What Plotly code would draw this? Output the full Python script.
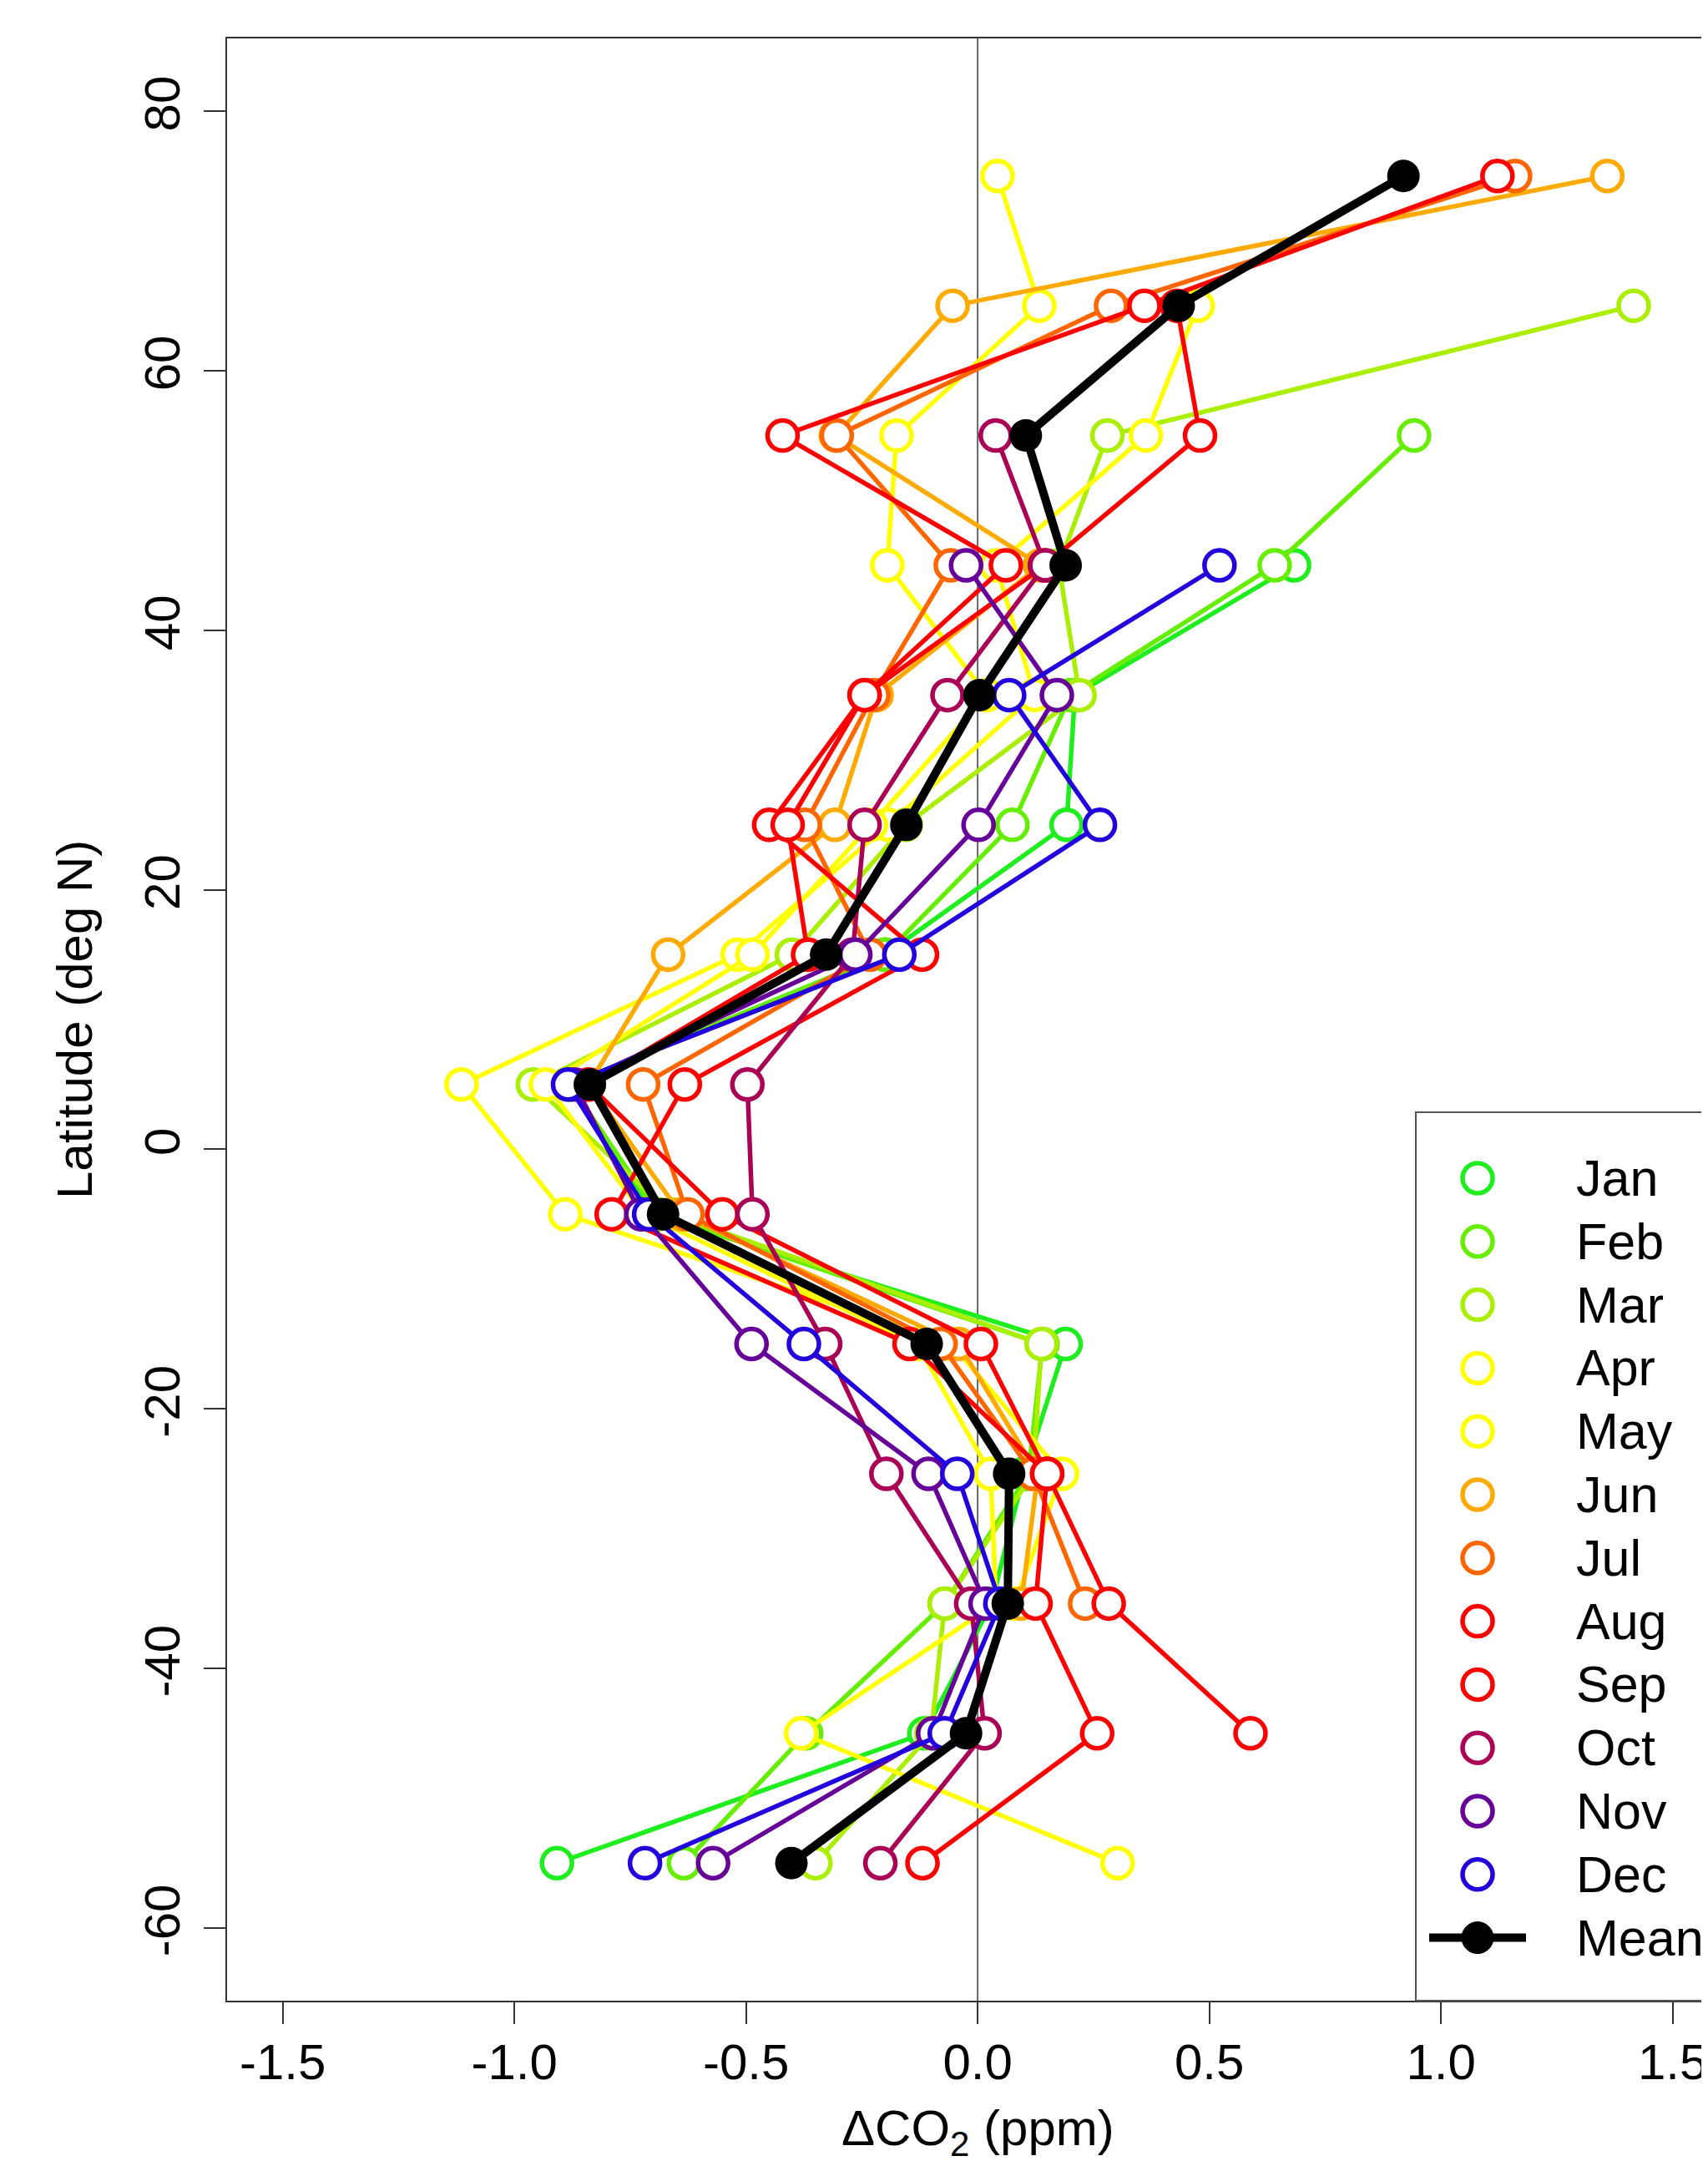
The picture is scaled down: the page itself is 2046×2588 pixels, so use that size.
import plotly.graph_objects as go

# ---------------- data ----------------
lats = [75, 65, 55, 45, 35, 25, 15, 5, -5, -15, -25, -35, -45, -55]
months = ["Jan", "Feb", "Mar", "Apr", "May", "Jun", "Jul", "Aug", "Sep", "Oct", "Nov", "Dec"]

jan = [None, None, None, 0.683, 0.21, 0.192, -0.20, -0.88, -0.70, 0.19, 0.10, 0.03, -0.115, -0.908]
feb = [None, None, 0.942, 0.641, 0.20, 0.075, -0.20, -0.88, -0.69, 0.14, 0.11, -0.071, -0.37, -0.634]
mar = [None, 1.416, 0.28, 0.175, 0.22, -0.155, -0.401, -0.96, -0.66, 0.138, 0.12, -0.071, -0.10, -0.35]
apr = [None, 0.475, 0.363, 0.04, 0.123, -0.193, -0.518, -1.114, -0.89, -0.056, 0.182, 0.08, None, None]
may = [0.043, 0.133, -0.175, -0.195, 0.02, -0.23, -0.486, -0.932, -0.72, -0.13, 0.028, 0.04, -0.381, 0.302]
jun = [1.359, -0.054, -0.306, 0.135, -0.218, -0.308, -0.668, -0.84, -0.64, -0.041, 0.13, 0.094, None, None]
jul = [1.16, 0.288, -0.304, -0.058, -0.225, -0.373, -0.232, -0.722, -0.626, -0.08, 0.12, 0.232, None, None]
aug = [1.122, 0.36, -0.421, 0.061, -0.244, -0.45, -0.12, -0.632, -0.79, -0.147, 0.15, 0.283, 0.589, None]
sep = [None, 0.43, 0.48, 0.145, -0.244, -0.41, -0.366, -0.84, -0.551, 0.007, 0.15, 0.125, 0.258, -0.119]
octo = [None, None, 0.039, 0.146, -0.065, -0.244, -0.27, -0.497, -0.486, -0.329, -0.197, -0.014, 0.015, -0.21]
nov = [None, None, None, -0.025, 0.171, 0.002, -0.264, -0.87, -0.726, -0.488, -0.106, 0.017, -0.096, -0.571]
dec = [None, None, None, 0.522, 0.068, 0.264, -0.169, -0.884, -0.709, -0.375, -0.044, 0.049, -0.071, -0.718]
mean_vals = [0.919, 0.434, 0.104, 0.19, 0.004, -0.154, -0.327, -0.837, -0.679, -0.11, 0.068, 0.065, -0.025, -0.402]

x_ticks = [-1.5, -1.0, -0.5, 0.0, 0.5, 1.0, 1.5]
x_ticklabels = ["-1.5", "-1.0", "-0.5", "0.0", "0.5", "1.0", "1.5"]
y_ticks = [-60, -40, -20, 0, 20, 40, 60, 80]
y_ticklabels = ["-60", "-40", "-20", "0", "20", "40", "60", "80"]

month_series = [jan, feb, mar, apr, may, jun, jul, aug, sep, octo, nov, dec]
month_colors = ["#1EEE1E", "#66EE00", "#AAEE00", "#FFFF00", "#FFFF00", "#FFAA00",
                "#FF6600", "#FF0000", "#FF0000", "#AA0055", "#660099", "#2200DD"]

# ---------------- layout geometry ----------------
OFF = 8                      # default page body margin
W, H = 2046 - OFF, 2588 - OFF
ML, MT = 272 - OFF, 46 - OFF
PLOT_BOTTOM = 2396 - OFF
MB = H - PLOT_BOTTOM
PW = W - ML
PH = PLOT_BOTTOM - MT
PX_PER_UNIT = 555.0
FONT = "Liberation Sans, Arial, Helvetica, sans-serif"
FS = 60


def px_x(page_px):
    return (page_px - OFF - ML) / PW


def px_y(page_py):
    return (PLOT_BOTTOM - (page_py - OFF)) / PH


fig = go.Figure()

for name, vals, col in zip(months, month_series, month_colors):
    fig.add_trace(go.Scatter(
        x=vals, y=lats, mode="lines+markers", name=name, showlegend=False,
        line=dict(color=col, width=5.5),
        marker=dict(symbol="circle", size=36, color="white",
                    line=dict(color=col, width=5.5)),
    ))

fig.add_trace(go.Scatter(
    x=mean_vals, y=lats, mode="lines+markers", name="Mean", showlegend=False,
    line=dict(color="black", width=10),
    marker=dict(symbol="circle", size=39, color="black", line=dict(width=0)),
))

shapes = []
shapes.append(dict(type="line", xref="x", yref="paper", x0=0, x1=0, y0=0, y1=1,
                   line=dict(color="#666666", width=2), layer="below"))

# ---------------- manual legend (layout decoration) ----------------
box_left, box_top = 1696, 1332
row0, row_gap = 1411, 75.8
sym_x, text_x = 1770, 1886
shapes.append(dict(type="rect", xref="paper", yref="paper",
                   x0=px_x(box_left), x1=1.2, y0=0, y1=px_y(box_top),
                   line=dict(color="#555555", width=2), fillcolor="white", layer="above"))
annotations = []
for i, (name, col) in enumerate(zip(months, month_colors)):
    yy = px_y(row0 + i * row_gap)
    shapes.append(dict(type="circle", xref="paper", yref="paper",
                       xsizemode="pixel", ysizemode="pixel",
                       xanchor=px_x(sym_x), yanchor=yy,
                       x0=-18, x1=18, y0=-18, y1=18,
                       line=dict(color=col, width=5.5), fillcolor="white", layer="above"))
    annotations.append(dict(xref="paper", yref="paper", x=px_x(text_x), y=yy,
                            xanchor="left", yanchor="middle", text=name, showarrow=False,
                            font=dict(family=FONT, size=61, color="black")))
ym = px_y(row0 + 12 * row_gap)
shapes.append(dict(type="line", xref="paper", yref="paper",
                   xsizemode="pixel", ysizemode="pixel",
                   xanchor=px_x(sym_x), yanchor=ym, x0=-58, x1=58, y0=0, y1=0,
                   line=dict(color="black", width=10), layer="above"))
shapes.append(dict(type="circle", xref="paper", yref="paper",
                   xsizemode="pixel", ysizemode="pixel",
                   xanchor=px_x(sym_x), yanchor=ym, x0=-19, x1=19, y0=-19, y1=19,
                   line=dict(color="black", width=1), fillcolor="black", layer="above"))
annotations.append(dict(xref="paper", yref="paper", x=px_x(text_x), y=ym,
                        xanchor="left", yanchor="middle", text="Mean", showarrow=False,
                        font=dict(family=FONT, size=61, color="black")))

# axis titles
annotations.append(dict(xref="x", yref="paper", x=0, y=px_y(2553),
                        xanchor="center", yanchor="middle", showarrow=False,
                        text="ΔCO<sub>2</sub> (ppm)",
                        font=dict(family=FONT, size=FS, color="black")))
annotations.append(dict(xref="paper", yref="paper", x=px_x(89), y=0.5,
                        xanchor="center", yanchor="middle", showarrow=False,
                        textangle=-90, text="Latitude (deg N)",
                        font=dict(family=FONT, size=FS, color="black")))

x_left = -1.62
fig.update_layout(
    width=W, height=H,
    margin=dict(l=ML, r=0, t=MT, b=MB, pad=0),
    paper_bgcolor="white", plot_bgcolor="white",
    font=dict(family=FONT, size=FS, color="black"),
    showlegend=False,
    shapes=shapes, annotations=annotations,
    xaxis=dict(range=[x_left, x_left + PW / PX_PER_UNIT], showgrid=False, zeroline=False,
               showline=True, mirror=True, linecolor="#333333", linewidth=2,
               ticks="outside", ticklen=26, tickwidth=2, tickcolor="#333333",
               tickvals=x_ticks, ticktext=x_ticklabels, ticklabelstandoff=-6,
               tickfont=dict(family=FONT, size=FS, color="black"), automargin=False),
    yaxis=dict(range=[-65.6, 85.6], showgrid=False, zeroline=False,
               showline=True, mirror=False, linecolor="#333333", linewidth=2,
               ticks="outside", ticklen=26, tickwidth=2, tickcolor="#333333",
               tickvals=y_ticks, ticktext=y_ticklabels, tickangle=-90, ticklabelstandoff=5,
               tickfont=dict(family=FONT, size=FS, color="black"), automargin=False),
)

fig.write_html("out.html")
